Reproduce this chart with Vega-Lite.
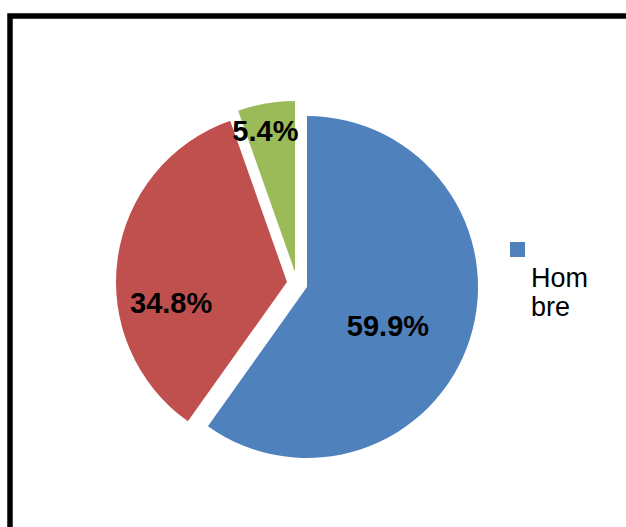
{
  "$schema": "https://vega.github.io/schema/vega-lite/v6.json",
  "autosize": {"type": "none"},
  "width": 626,
  "height": 527,
  "padding": {"left": 10, "top": 16, "right": -10, "bottom": -16},
  "background": "white",
  "view": {"stroke": "black", "strokeWidth": 5.5},
  "data": {
    "values": [
      {"categoria": "Hombre", "valor": 0.599, "orden": 1},
      {"categoria": "Mujer", "valor": 0.348, "orden": 2},
      {"categoria": "Otro", "valor": 0.054, "orden": 3}
    ]
  },
  "encoding": {
    "theta": {"field": "valor", "type": "quantitative", "stack": true},
    "order": {"field": "orden", "type": "quantitative"}
  },
  "layer": [
    {
      "mark": {
        "type": "arc",
        "radius": 171,
        "xOffset": {"expr": "datum.categoria == 'Hombre' ? -16 : datum.categoria == 'Mujer' ? -36 : -28"},
        "yOffset": {"expr": "datum.categoria == 'Hombre' ? 7.5 : datum.categoria == 'Mujer' ? 2.5 : -7.5"}
      },
      "encoding": {
        "color": {
          "field": "categoria",
          "type": "nominal",
          "scale": {"domain": ["Hombre", "Mujer", "Otro"], "range": ["#4F81BD", "#C0504D", "#9BBB59"]},
          "legend": {
            "values": ["Hombre"],
            "title": null,
            "orient": "none",
            "legendX": 494,
            "legendY": 220,
            "padding": 0,
            "symbolType": "square",
            "symbolSize": 225,
            "symbolStrokeWidth": 0,
            "labelFont": "Liberation Sans",
            "labelFontSize": 27,
            "labelColor": "black",
            "labelLimit": 300,
            "labelOffset": 0,
            "labelBaseline": "middle",
            "labelExpr": "datum.label == 'Hombre' ? ['', '', '', 'Hom', 'bre'] : datum.label"
          }
        }
      }
    },
    {
      "mark": {
        "type": "text",
        "font": "Liberation Sans",
        "fontSize": 29,
        "fontWeight": "bold",
        "color": "black",
        "align": "center",
        "baseline": "middle",
        "radius": {"expr": "datum.categoria == 'Hombre' ? 85 : datum.categoria == 'Mujer' ? 117 : 143"},
        "xOffset": {"expr": "datum.categoria == 'Hombre' ? -16 : datum.categoria == 'Mujer' ? -36 : -33.5"},
        "yOffset": {"expr": "datum.categoria == 'Hombre' ? 21.5 : datum.categoria == 'Mujer' ? 41 : -7"}
      },
      "encoding": {
        "text": {"field": "valor", "type": "quantitative", "format": ".1%"}
      }
    }
  ]
}
